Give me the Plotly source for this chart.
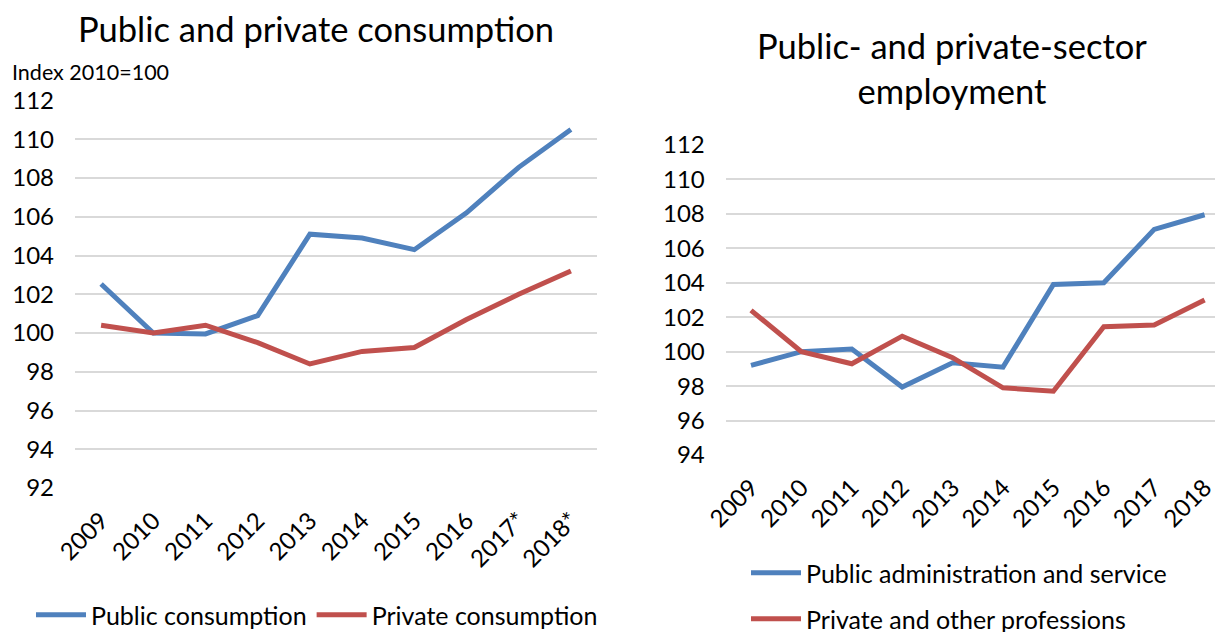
import plotly.graph_objects as go

years_left = ["2009", "2010", "2011", "2012", "2013", "2014", "2015", "2016", "2017*", "2018*"]
public_consumption = [102.53, 100.0, 99.95, 100.9, 105.1, 104.9, 104.3, 106.2, 108.55, 110.5]
private_consumption = [100.4, 100.0, 100.4, 99.5, 98.4, 99.05, 99.25, 100.7, 102.0, 103.2]

years_right = ["2009", "2010", "2011", "2012", "2013", "2014", "2015", "2016", "2017", "2018"]
public_admin = [99.2, 100.0, 100.15, 97.95, 99.35, 99.1, 103.9, 104.0, 107.1, 107.95]
private_prof = [102.4, 100.0, 99.3, 100.9, 99.65, 97.9, 97.7, 101.45, 101.55, 103.0]

BLUE = "#4F81BD"
RED = "#C0504D"
GRID = "#D9D9D9"
FONT = "Lato"
OFF = 8              # page body margin around the plot div
W, H = 1223 - OFF, 632 - OFF

fig = go.Figure()
fig.add_trace(go.Scatter(x=years_left, y=public_consumption, name="Public consumption",
                         mode="lines", line=dict(color=BLUE, width=5),
                         xaxis="x", yaxis="y", legend="legend"))
fig.add_trace(go.Scatter(x=years_left, y=private_consumption, name="Private consumption",
                         mode="lines", line=dict(color=RED, width=5),
                         xaxis="x", yaxis="y", legend="legend"))
fig.add_trace(go.Scatter(x=years_right, y=public_admin, name="Public administration and service",
                         mode="lines", line=dict(color=BLUE, width=5),
                         xaxis="x2", yaxis="y2", legend="legend2"))
fig.add_trace(go.Scatter(x=years_right, y=private_prof, name="Private and other professions",
                         mode="lines", line=dict(color=RED, width=5),
                         xaxis="x2", yaxis="y2", legend="legend3"))

def px_x(p):
    return (p - OFF) / W

def px_y(p):
    return 1 - (p - OFF) / H

tickfont = dict(family=FONT, size=24, color="#000000")
xcommon = dict(type="category", tickangle=-45, tickfont=tickfont, showgrid=False,
               showline=False, zeroline=False, ticks="outside", ticklen=8,
               tickcolor="rgba(0,0,0,0)", automargin=False)
ycommon = dict(dtick=2, tickfont=tickfont, showgrid=True, gridcolor=GRID, gridwidth=1.5,
               zeroline=False, showline=False, ticklabelstandoff=20, automargin=False)

legfont = dict(family=FONT, size=25, color="#000000")

fig.update_layout(
    width=W, height=H,
    margin=dict(l=0, r=0, t=0, b=0, autoexpand=False),
    paper_bgcolor="white", plot_bgcolor="white",
    font=dict(family=FONT, color="#000000"),
    xaxis=dict(domain=[px_x(75), px_x(597)], range=[-0.5, 9.5], anchor="y", **xcommon),
    yaxis=dict(domain=[px_y(488), px_y(100.5)], range=[92, 112], anchor="x", **ycommon),
    xaxis2=dict(domain=[px_x(725.8), 1.0], range=[-0.5, 9.365], anchor="y2", **xcommon),
    yaxis2=dict(domain=[px_y(455), px_y(145)], range=[94, 112], anchor="x2", **ycommon),
    legend=dict(orientation="h", x=px_x(31), y=px_y(615), xanchor="left", yanchor="middle",
                font=legfont, bgcolor="rgba(0,0,0,0)", itemwidth=50),
    legend2=dict(orientation="v", x=px_x(746), y=px_y(573), xanchor="left", yanchor="middle",
                 font=legfont, bgcolor="rgba(0,0,0,0)", itemwidth=50),
    legend3=dict(orientation="v", x=px_x(746), y=px_y(619), xanchor="left", yanchor="middle",
                 font=legfont, bgcolor="rgba(0,0,0,0)", itemwidth=50),
    showlegend=True,
    annotations=[
        dict(text="Public and private consumption", x=px_x(316), y=px_y(29),
             xref="paper", yref="paper", showarrow=False, xanchor="center", yanchor="middle",
             font=dict(family=FONT, size=34.5)),
        dict(text="Index 2010=100", x=px_x(10), y=px_y(72),
             xref="paper", yref="paper", showarrow=False, xanchor="left", yanchor="middle",
             font=dict(family=FONT, size=21.5)),
        dict(text="Public- and private-sector<br>employment", x=px_x(952), y=px_y(68),
             xref="paper", yref="paper", showarrow=False, xanchor="center", yanchor="middle",
             font=dict(family=FONT, size=34.5)),
    ],
)

fig.write_html("out.html")
